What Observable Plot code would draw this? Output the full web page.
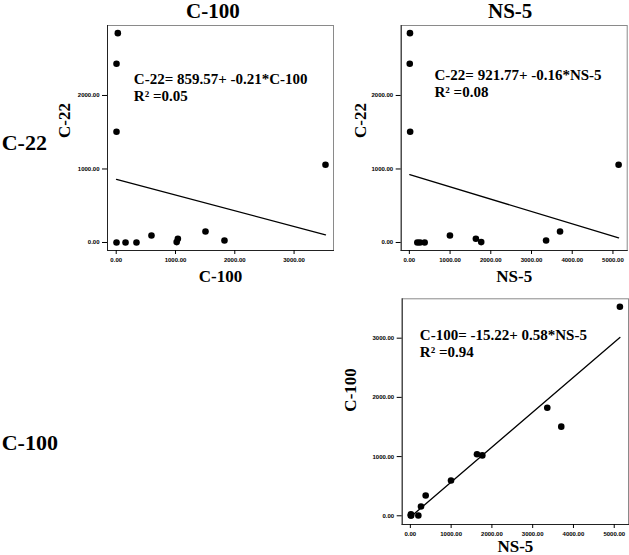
<!DOCTYPE html>
<html>
<head>
<meta charset="utf-8">
<script src="https://cdn.jsdelivr.net/npm/d3@7"></script>
<script src="https://cdn.jsdelivr.net/npm/@observablehq/plot@0.6"></script>
<style>
  html, body { margin: 0; padding: 0; background: #fff; }
  #wrap { position: relative; width: 629px; height: 555px; overflow: hidden; background: #fff; }
  .hdr { position: absolute; font-family: "Liberation Serif", "Times New Roman", serif; font-weight: bold; color: #000; white-space: nowrap; }
  .panel { position: absolute; }
</style>
</head>
<body>
<div id="wrap"></div>
<script>
// ---- data (one entry per observation) ----
const ns5  = [15, 10, 20, 196, 261, 376, 997, 1634, 1765, 3701, 3358, 5139];
const c100 = [27, 5, 5, 5, 157, 342, 595, 1040, 1020, 1506, 1826, 3530];
const c22  = [2848, 2431, 1506, 0, 0, 0, 95, 50, 5, 150, 27, 1057];

const rowHeaders = ["C-22", "C-100"];
const colHeaders = ["C-100", "NS-5"];
const equations = ["C-22= 859.57+ -0.21*C-100", "C-22= 921.77+ -0.16*NS-5", "C-100= -15.22+ 0.58*NS-5"];
const rSquared = ["0.05", "0.08", "0.94"];

const ticksC22 = [0, 1000, 2000];
const ticksC100 = [0, 1000, 2000, 3000];
const ticksNS5 = [0, 1000, 2000, 3000, 4000, 5000];

const rows = ns5.map((d, i) => ({"NS-5": ns5[i], "C-100": c100[i], "C-22": c22[i]}));

const domains = {"C-22": [-109, 2952], "C-100": [-147, 3665], "NS-5": [-200, 5350]};
const ticks = {"C-22": ticksC22, "C-100": ticksC100, "NS-5": ticksNS5};

const wrap = document.getElementById("wrap");
const fmt = d3.format(".2f");
const serif = "Liberation Serif, Times New Roman, serif";

function panel({xv, yv, eq, r2, left, top, width, height, m, eqDx, eqDy, ylDx, xlDy}) {
  const p = Plot.plot({
    width, height,
    marginLeft: m[0], marginTop: m[1], marginRight: m[2], marginBottom: m[3],
    style: {fontFamily: "Liberation Sans, Arial, sans-serif", fontSize: "6px", fontWeight: "bold", background: "transparent", overflow: "visible"},
    x: {domain: domains[xv], axis: null},
    y: {domain: domains[yv], axis: null},
    marks: [
      Plot.frame({stroke: "#8a8a8a"}),
      Plot.frame({anchor: "left", stroke: "#222"}),
      Plot.frame({anchor: "bottom", stroke: "#222"}),
      Plot.axisX({ticks: ticks[xv], tickFormat: fmt, tickSize: 4, tickPadding: 3, label: null}),
      Plot.axisY({ticks: ticks[yv], tickFormat: fmt, tickSize: 5, tickPadding: 3, label: null}),
      Plot.linearRegressionY(rows, {x: xv, y: yv, ci: 0, stroke: "#000", strokeWidth: 1.3}),
      Plot.dot(rows, {x: xv, y: yv, r: 3.3, fill: "#000", stroke: null}),
      Plot.text([eq + "\nR² =" + r2], {frameAnchor: "top-left", textAnchor: "start", lineAnchor: "top", lineHeight: 1.13, dx: eqDx, dy: eqDy, fontFamily: serif, fontSize: 15, fontWeight: "bold", fill: "#000"}),
      Plot.text([yv], {frameAnchor: "left", rotate: -90, dx: ylDx, fontFamily: serif, fontSize: 17, fontWeight: "bold", fill: "#000"}),
      Plot.text([xv], {frameAnchor: "bottom", lineAnchor: "middle", dy: xlDy, fontFamily: serif, fontSize: 17, fontWeight: "bold", fill: "#000"})
    ]
  });
  p.classList.add("panel");
  p.style.left = left + "px";
  p.style.top = top + "px";
  wrap.appendChild(p);
}

panel({xv: "C-100", yv: "C-22", eq: equations[0], r2: rSquared[0], left: 0, top: 0, width: 336, height: 290,
  m: [107, 25, 3, 40], eqDx: 26.3, eqDy: 46.6, ylDx: -42.5, xlDy: 26});
panel({xv: "NS-5", yv: "C-22", eq: equations[1], r2: rSquared[1], left: 336, top: 0, width: 293, height: 290,
  m: [64.7, 25, 2.3, 40], eqDx: 33.3, eqDy: 42.6, ylDx: -40.7, xlDy: 26});
panel({xv: "NS-5", yv: "C-100", eq: equations[2], r2: rSquared[2], left: 336, top: 290, width: 293, height: 265,
  m: [65.7, 8.3, 1, 31], eqDx: 17.6, eqDy: 29.3, ylDx: -51.7, xlDy: 22});

// headers: text placed so its baseline sits at the given y
function header(text, x, baseline, size, anchor) {
  const d = document.createElement("div");
  d.className = "hdr";
  d.textContent = text;
  d.style.fontSize = size + "px";
  d.style.lineHeight = size + "px";
  // Liberation Serif: ascent 0.891, descent 0.216 -> baseline offset inside a line box of height = size
  const baseOff = (size - 1.107 * size) / 2 + 0.891 * size;
  d.style.top = (baseline - baseOff) + "px";
  wrap.appendChild(d);
  if (anchor === "middle") d.style.left = (x - d.offsetWidth / 2) + "px";
  else d.style.left = x + "px";
}
header(colHeaders[0], 213, 18.8, 21, "middle");
header(colHeaders[1], 510, 18.8, 21, "middle");
header(rowHeaders[0], 1.7, 150, 22, "start");
header(rowHeaders[1], 1.7, 450, 22, "start");
</script>
</body>
</html>
